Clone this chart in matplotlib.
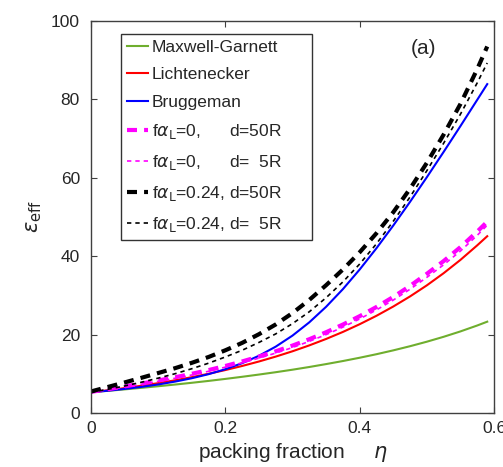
import matplotlib
matplotlib.use('Agg')
import matplotlib.pyplot as plt
from matplotlib import rcParams

rcParams['font.family'] = 'sans-serif'
rcParams['font.sans-serif'] = ['Liberation Sans']
rcParams['mathtext.fontset'] = 'dejavusans'

# packing fraction grid
eta = [0.0, 0.025, 0.05, 0.075, 0.10, 0.125, 0.15, 0.175, 0.20, 0.225, 0.25, 0.275,
       0.30, 0.325, 0.35, 0.375, 0.40, 0.425, 0.45, 0.475, 0.50, 0.525, 0.55, 0.575, 0.59]

# effective permittivity for each model
maxwell_garnett = [5.3, 5.66, 6.03, 6.42, 6.83, 7.26, 7.71, 8.19, 8.70, 9.24, 9.81, 10.41,
                   11.05, 11.74, 12.48, 13.26, 14.10, 15.00, 15.98, 17.04, 18.19, 19.44,
                   20.81, 22.32, 23.3]
lichtenecker = [5.3, 5.80, 6.35, 6.96, 7.62, 8.34, 9.14, 10.01, 10.96, 12.00, 13.14, 14.39,
                15.75, 17.25, 18.89, 20.68, 22.65, 24.80, 27.16, 29.74, 32.56, 35.66,
                39.05, 42.76, 45.1]
bruggeman = [5.3, 5.69, 6.15, 6.67, 7.28, 8.01, 8.87, 9.91, 11.17, 12.71, 14.60, 16.93,
             19.75, 23.13, 27.09, 31.59, 36.6, 42.03, 47.81, 53.86, 60.14, 66.59,
             73.17, 79.87, 83.9]
fa0_d50 = [5.4, 6.06, 6.8, 7.51, 8.3, 9.11, 10.0, 10.95, 12.0, 13.15, 14.4, 15.74,
           17.2, 18.82, 20.6, 22.56, 24.7, 27.04, 29.6, 32.42, 35.5, 38.75,
           42.3, 46.26, 48.8]
fa0_d5 = [5.3, 5.91, 6.6, 7.31, 8.1, 8.86, 9.7, 10.65, 11.7, 12.80, 14.0, 15.29,
          16.7, 18.28, 20.0, 21.91, 24.0, 26.29, 28.8, 31.57, 34.6, 37.80,
          41.3, 45.31, 47.9]
fa024_d50 = [5.5, 6.64, 7.8, 8.98, 10.2, 11.43, 12.8, 14.29, 16.0, 17.89, 20.1, 22.59,
             25.5, 28.85, 32.6, 36.6, 41.0, 45.85, 51.2, 57.2, 63.8, 71.0,
             78.8, 87.7, 93.5]
fa024_d5 = [5.3, 6.05, 6.9, 7.85, 8.9, 10.02, 11.3, 12.71, 14.3, 16.01, 18.0, 20.18,
            22.8, 25.83, 29.4, 33.44, 38.0, 43.17, 48.9, 55.1, 61.8, 68.8,
            76.2, 84.2, 89.3]

labels = ['Maxwell-Garnett', 'Lichtenecker', 'Bruggeman',
          r'f$\alpha_{\rm L}$=0,      d=50R',
          r'f$\alpha_{\rm L}$=0,      d=  5R',
          r'f$\alpha_{\rm L}$=0.24, d=50R',
          r'f$\alpha_{\rm L}$=0.24, d=  5R']

txt = '#262626'
thick_dash = (0, (2.4, 1.7))
thin_dash = (0, (2.6, 2.4))

fig = plt.figure(figsize=(5.03, 4.67), dpi=100)
ax = fig.add_axes([0.181, 0.1156, 0.801, 0.8394])

ax.plot(eta, maxwell_garnett, color='#6fae2e', lw=1.5, label=labels[0])
ax.plot(eta, lichtenecker, color='red', lw=1.5, label=labels[1])
ax.plot(eta, bruggeman, color='blue', lw=1.5, label=labels[2])
ax.plot(eta, fa0_d50, color='magenta', lw=3, linestyle=thick_dash, label=labels[3])
ax.plot(eta, fa0_d5, color='magenta', lw=1.2, linestyle=thin_dash, label=labels[4])
ax.plot(eta, fa024_d50, color='black', lw=3, linestyle=thick_dash, label=labels[5])
ax.plot(eta, fa024_d5, color='black', lw=1.2, linestyle=thin_dash, label=labels[6])

ax.set_xlim(0, 0.6)
ax.set_ylim(0, 100)
ax.set_xticks([0, 0.2, 0.4, 0.6])
ax.set_xticklabels(['0', '0.2', '0.4', '0.6'])
ax.set_yticks([0, 20, 40, 60, 80, 100])

for s in ax.spines.values():
    s.set_color('#404040')
    s.set_linewidth(1.0)
ax.tick_params(direction='in', length=4, width=0.8, color='#404040',
               top=True, right=True, labelsize=12.5, labelcolor=txt)
ax.tick_params(axis='x', pad=6)
ax.tick_params(axis='y', pad=8)

ax.set_xlabel('packing fraction     $\\eta$', fontsize=15, color=txt, labelpad=3)
ax.set_ylabel(r'$\epsilon_{\rm eff}$', fontsize=15, color=txt, labelpad=5)

ax.text(0.826, 0.929, '(a)', transform=ax.transAxes, ha='center', va='center',
        fontsize=15, color=txt)

leg = ax.legend(loc='upper left', bbox_to_anchor=(0.074, 0.42, 0.474, 0.547),
                mode='expand', fontsize=12.5, handlelength=1.2, handletextpad=0.25,
                borderpad=0.35, labelspacing=0.7, fancybox=False, framealpha=1,
                edgecolor='#333333', borderaxespad=0)
leg.get_frame().set_linewidth(1.0)
for t in leg.get_texts():
    t.set_color(txt)

fig.savefig('out.png', dpi=100)
